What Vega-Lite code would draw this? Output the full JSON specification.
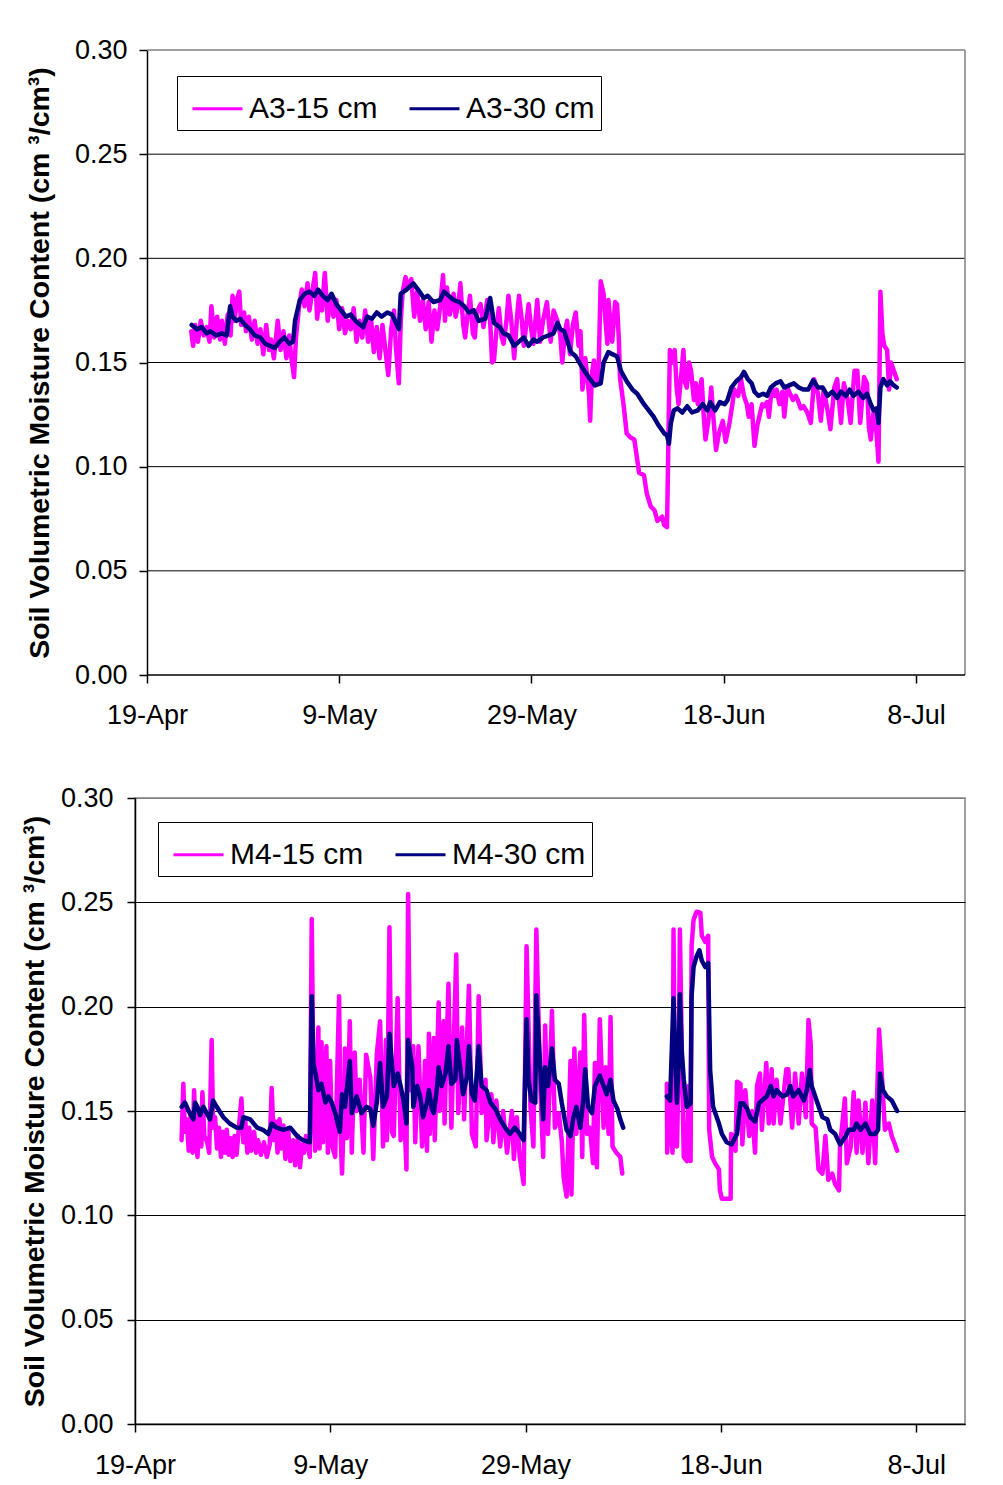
{
 "$schema": "https://vega.github.io/schema/vega-lite/v6.json",
 "padding": {"left": 19, "top": 36, "right": 0, "bottom": 0},
 "background": "white",
 "config": {
  "font": "Liberation Sans",
  "view": {"stroke": "#808080", "strokeWidth": 1.5},
  "axis": {"domainColor": "black", "domainWidth": 1.5, "tickColor": "black", "tickWidth": 1.5, "tickSize": 8, "labelColor": "black", "labelFontSize": 27, "labelFont": "Liberation Sans", "titleColor": "black", "titleFont": "Liberation Sans", "gridWidth": 1}
 },
 "datasets": {
  "a3": [
   {"s":"A3-15 cm","d":4.6,"v":0.165},{"s":"A3-15 cm","d":4.8,"v":0.158},{"s":"A3-15 cm","d":5.0,"v":0.168},{"s":"A3-15 cm","d":5.3,"v":0.160},{"s":"A3-15 cm","d":5.6,"v":0.170},{"s":"A3-15 cm","d":5.9,"v":0.163},{"s":"A3-15 cm","d":6.2,"v":0.167},{"s":"A3-15 cm","d":6.5,"v":0.160},{"s":"A3-15 cm","d":6.7,"v":0.177},{"s":"A3-15 cm","d":7.0,"v":0.162},{"s":"A3-15 cm","d":7.3,"v":0.172},{"s":"A3-15 cm","d":7.6,"v":0.161},{"s":"A3-15 cm","d":7.8,"v":0.170},{"s":"A3-15 cm","d":8.1,"v":0.159},{"s":"A3-15 cm","d":8.4,"v":0.173},{"s":"A3-15 cm","d":8.7,"v":0.163},{"s":"A3-15 cm","d":8.9,"v":0.182},{"s":"A3-15 cm","d":9.1,"v":0.170},{"s":"A3-15 cm","d":9.4,"v":0.181},{"s":"A3-15 cm","d":9.6,"v":0.184},{"s":"A3-15 cm","d":9.8,"v":0.168},{"s":"A3-15 cm","d":10.1,"v":0.174},{"s":"A3-15 cm","d":10.3,"v":0.165},{"s":"A3-15 cm","d":10.6,"v":0.172},{"s":"A3-15 cm","d":10.9,"v":0.161},{"s":"A3-15 cm","d":11.2,"v":0.170},{"s":"A3-15 cm","d":11.5,"v":0.159},{"s":"A3-15 cm","d":11.8,"v":0.166},{"s":"A3-15 cm","d":12.1,"v":0.154},{"s":"A3-15 cm","d":12.4,"v":0.168},{"s":"A3-15 cm","d":12.7,"v":0.156},{"s":"A3-15 cm","d":12.9,"v":0.161},{"s":"A3-15 cm","d":13.2,"v":0.152},{"s":"A3-15 cm","d":13.6,"v":0.170},{"s":"A3-15 cm","d":13.9,"v":0.156},{"s":"A3-15 cm","d":14.2,"v":0.165},{"s":"A3-15 cm","d":14.5,"v":0.152},{"s":"A3-15 cm","d":14.8,"v":0.163},{"s":"A3-15 cm","d":15.0,"v":0.153},{"s":"A3-15 cm","d":15.3,"v":0.143},{"s":"A3-15 cm","d":15.5,"v":0.162},{"s":"A3-15 cm","d":15.8,"v":0.176},{"s":"A3-15 cm","d":16.1,"v":0.185},{"s":"A3-15 cm","d":16.4,"v":0.177},{"s":"A3-15 cm","d":16.7,"v":0.188},{"s":"A3-15 cm","d":16.9,"v":0.175},{"s":"A3-15 cm","d":17.2,"v":0.184},{"s":"A3-15 cm","d":17.5,"v":0.193},{"s":"A3-15 cm","d":17.7,"v":0.171},{"s":"A3-15 cm","d":18.0,"v":0.184},{"s":"A3-15 cm","d":18.2,"v":0.175},{"s":"A3-15 cm","d":18.5,"v":0.193},{"s":"A3-15 cm","d":18.8,"v":0.170},{"s":"A3-15 cm","d":19.1,"v":0.182},{"s":"A3-15 cm","d":19.4,"v":0.172},{"s":"A3-15 cm","d":19.7,"v":0.180},{"s":"A3-15 cm","d":20.0,"v":0.166},{"s":"A3-15 cm","d":20.3,"v":0.176},{"s":"A3-15 cm","d":20.6,"v":0.164},{"s":"A3-15 cm","d":20.9,"v":0.170},{"s":"A3-15 cm","d":21.2,"v":0.166},{"s":"A3-15 cm","d":21.5,"v":0.176},{"s":"A3-15 cm","d":21.8,"v":0.160},{"s":"A3-15 cm","d":22.1,"v":0.170},{"s":"A3-15 cm","d":22.4,"v":0.162},{"s":"A3-15 cm","d":22.7,"v":0.175},{"s":"A3-15 cm","d":23.0,"v":0.160},{"s":"A3-15 cm","d":23.3,"v":0.171},{"s":"A3-15 cm","d":23.6,"v":0.155},{"s":"A3-15 cm","d":23.9,"v":0.167},{"s":"A3-15 cm","d":24.2,"v":0.152},{"s":"A3-15 cm","d":24.5,"v":0.168},{"s":"A3-15 cm","d":24.8,"v":0.156},{"s":"A3-15 cm","d":25.1,"v":0.144},{"s":"A3-15 cm","d":25.4,"v":0.166},{"s":"A3-15 cm","d":25.7,"v":0.175},{"s":"A3-15 cm","d":25.9,"v":0.157},{"s":"A3-15 cm","d":26.2,"v":0.140},{"s":"A3-15 cm","d":26.4,"v":0.170},{"s":"A3-15 cm","d":26.6,"v":0.184},{"s":"A3-15 cm","d":26.9,"v":0.191},{"s":"A3-15 cm","d":27.2,"v":0.186},{"s":"A3-15 cm","d":27.5,"v":0.190},{"s":"A3-15 cm","d":27.8,"v":0.172},{"s":"A3-15 cm","d":28.1,"v":0.184},{"s":"A3-15 cm","d":28.4,"v":0.170},{"s":"A3-15 cm","d":28.7,"v":0.180},{"s":"A3-15 cm","d":29.0,"v":0.166},{"s":"A3-15 cm","d":29.3,"v":0.179},{"s":"A3-15 cm","d":29.6,"v":0.160},{"s":"A3-15 cm","d":29.9,"v":0.175},{"s":"A3-15 cm","d":30.2,"v":0.166},{"s":"A3-15 cm","d":30.5,"v":0.177},{"s":"A3-15 cm","d":30.8,"v":0.192},{"s":"A3-15 cm","d":31.0,"v":0.170},{"s":"A3-15 cm","d":31.2,"v":0.186},{"s":"A3-15 cm","d":31.5,"v":0.173},{"s":"A3-15 cm","d":31.9,"v":0.183},{"s":"A3-15 cm","d":32.1,"v":0.172},{"s":"A3-15 cm","d":32.4,"v":0.178},{"s":"A3-15 cm","d":32.6,"v":0.188},{"s":"A3-15 cm","d":32.9,"v":0.168},{"s":"A3-15 cm","d":33.1,"v":0.162},{"s":"A3-15 cm","d":33.4,"v":0.175},{"s":"A3-15 cm","d":33.6,"v":0.182},{"s":"A3-15 cm","d":33.9,"v":0.164},{"s":"A3-15 cm","d":34.1,"v":0.162},{"s":"A3-15 cm","d":34.3,"v":0.174},{"s":"A3-15 cm","d":34.7,"v":0.178},{"s":"A3-15 cm","d":35.0,"v":0.167},{"s":"A3-15 cm","d":35.4,"v":0.180},{"s":"A3-15 cm","d":35.7,"v":0.170},{"s":"A3-15 cm","d":35.9,"v":0.150},{"s":"A3-15 cm","d":36.1,"v":0.151},{"s":"A3-15 cm","d":36.4,"v":0.168},{"s":"A3-15 cm","d":36.6,"v":0.176},{"s":"A3-15 cm","d":36.9,"v":0.162},{"s":"A3-15 cm","d":37.1,"v":0.159},{"s":"A3-15 cm","d":37.4,"v":0.170},{"s":"A3-15 cm","d":37.6,"v":0.182},{"s":"A3-15 cm","d":37.9,"v":0.170},{"s":"A3-15 cm","d":38.2,"v":0.152},{"s":"A3-15 cm","d":38.5,"v":0.172},{"s":"A3-15 cm","d":38.7,"v":0.182},{"s":"A3-15 cm","d":39.0,"v":0.170},{"s":"A3-15 cm","d":39.2,"v":0.158},{"s":"A3-15 cm","d":39.5,"v":0.170},{"s":"A3-15 cm","d":39.7,"v":0.178},{"s":"A3-15 cm","d":40.0,"v":0.165},{"s":"A3-15 cm","d":40.2,"v":0.159},{"s":"A3-15 cm","d":40.6,"v":0.180},{"s":"A3-15 cm","d":40.9,"v":0.160},{"s":"A3-15 cm","d":41.2,"v":0.170},{"s":"A3-15 cm","d":41.6,"v":0.179},{"s":"A3-15 cm","d":42.0,"v":0.160},{"s":"A3-15 cm","d":42.3,"v":0.175},{"s":"A3-15 cm","d":42.7,"v":0.170},{"s":"A3-15 cm","d":43.0,"v":0.163},{"s":"A3-15 cm","d":43.2,"v":0.150},{"s":"A3-15 cm","d":43.5,"v":0.165},{"s":"A3-15 cm","d":43.7,"v":0.170},{"s":"A3-15 cm","d":44.0,"v":0.154},{"s":"A3-15 cm","d":44.3,"v":0.168},{"s":"A3-15 cm","d":44.6,"v":0.174},{"s":"A3-15 cm","d":44.9,"v":0.158},{"s":"A3-15 cm","d":45.1,"v":0.165},{"s":"A3-15 cm","d":45.3,"v":0.137},{"s":"A3-15 cm","d":45.6,"v":0.152},{"s":"A3-15 cm","d":46.0,"v":0.134},{"s":"A3-15 cm","d":46.1,"v":0.122},{"s":"A3-15 cm","d":46.3,"v":0.145},{"s":"A3-15 cm","d":46.5,"v":0.151},{"s":"A3-15 cm","d":46.8,"v":0.140},{"s":"A3-15 cm","d":47.0,"v":0.150},{"s":"A3-15 cm","d":47.2,"v":0.189},{"s":"A3-15 cm","d":47.5,"v":0.183},{"s":"A3-15 cm","d":47.7,"v":0.170},{"s":"A3-15 cm","d":47.9,"v":0.159},{"s":"A3-15 cm","d":48.0,"v":0.180},{"s":"A3-15 cm","d":48.4,"v":0.160},{"s":"A3-15 cm","d":48.7,"v":0.179},{"s":"A3-15 cm","d":48.9,"v":0.178},{"s":"A3-15 cm","d":49.1,"v":0.160},{"s":"A3-15 cm","d":49.2,"v":0.143},{"s":"A3-15 cm","d":49.6,"v":0.129},{"s":"A3-15 cm","d":49.9,"v":0.116},{"s":"A3-15 cm","d":50.3,"v":0.114},{"s":"A3-15 cm","d":50.7,"v":0.113},{"s":"A3-15 cm","d":51.2,"v":0.097},{"s":"A3-15 cm","d":51.7,"v":0.096},{"s":"A3-15 cm","d":52.0,"v":0.087},{"s":"A3-15 cm","d":52.4,"v":0.081},{"s":"A3-15 cm","d":52.8,"v":0.079},{"s":"A3-15 cm","d":53.1,"v":0.074},{"s":"A3-15 cm","d":53.6,"v":0.076},{"s":"A3-15 cm","d":53.8,"v":0.072},{"s":"A3-15 cm","d":54.1,"v":0.071},{"s":"A3-15 cm","d":54.2,"v":0.100},{"s":"A3-15 cm","d":54.3,"v":0.130},{"s":"A3-15 cm","d":54.4,"v":0.156},{"s":"A3-15 cm","d":54.7,"v":0.150},{"s":"A3-15 cm","d":54.9,"v":0.156},{"s":"A3-15 cm","d":55.1,"v":0.138},{"s":"A3-15 cm","d":55.3,"v":0.130},{"s":"A3-15 cm","d":55.6,"v":0.145},{"s":"A3-15 cm","d":55.8,"v":0.156},{"s":"A3-15 cm","d":56.0,"v":0.140},{"s":"A3-15 cm","d":56.15,"v":0.138},{"s":"A3-15 cm","d":56.4,"v":0.150},{"s":"A3-15 cm","d":56.6,"v":0.146},{"s":"A3-15 cm","d":56.9,"v":0.132},{"s":"A3-15 cm","d":57.1,"v":0.140},{"s":"A3-15 cm","d":57.3,"v":0.130},{"s":"A3-15 cm","d":57.7,"v":0.142},{"s":"A3-15 cm","d":57.9,"v":0.126},{"s":"A3-15 cm","d":58.1,"v":0.113},{"s":"A3-15 cm","d":58.4,"v":0.122},{"s":"A3-15 cm","d":58.7,"v":0.138},{"s":"A3-15 cm","d":58.9,"v":0.125},{"s":"A3-15 cm","d":59.2,"v":0.108},{"s":"A3-15 cm","d":59.5,"v":0.116},{"s":"A3-15 cm","d":59.9,"v":0.122},{"s":"A3-15 cm","d":60.2,"v":0.112},{"s":"A3-15 cm","d":60.6,"v":0.121},{"s":"A3-15 cm","d":60.9,"v":0.130},{"s":"A3-15 cm","d":61.1,"v":0.137},{"s":"A3-15 cm","d":61.5,"v":0.134},{"s":"A3-15 cm","d":61.8,"v":0.142},{"s":"A3-15 cm","d":62.1,"v":0.134},{"s":"A3-15 cm","d":62.4,"v":0.130},{"s":"A3-15 cm","d":62.6,"v":0.124},{"s":"A3-15 cm","d":62.9,"v":0.130},{"s":"A3-15 cm","d":63.2,"v":0.110},{"s":"A3-15 cm","d":63.5,"v":0.120},{"s":"A3-15 cm","d":63.7,"v":0.124},{"s":"A3-15 cm","d":64.0,"v":0.130},{"s":"A3-15 cm","d":64.2,"v":0.129},{"s":"A3-15 cm","d":64.5,"v":0.131},{"s":"A3-15 cm","d":64.7,"v":0.124},{"s":"A3-15 cm","d":65.0,"v":0.138},{"s":"A3-15 cm","d":65.3,"v":0.134},{"s":"A3-15 cm","d":65.5,"v":0.137},{"s":"A3-15 cm","d":65.8,"v":0.130},{"s":"A3-15 cm","d":66.1,"v":0.136},{"s":"A3-15 cm","d":66.3,"v":0.124},{"s":"A3-15 cm","d":66.6,"v":0.138},{"s":"A3-15 cm","d":66.9,"v":0.135},{"s":"A3-15 cm","d":67.2,"v":0.132},{"s":"A3-15 cm","d":67.5,"v":0.134},{"s":"A3-15 cm","d":67.7,"v":0.132},{"s":"A3-15 cm","d":68.0,"v":0.128},{"s":"A3-15 cm","d":68.3,"v":0.129},{"s":"A3-15 cm","d":68.7,"v":0.126},{"s":"A3-15 cm","d":69.06,"v":0.121},{"s":"A3-15 cm","d":69.4,"v":0.142},{"s":"A3-15 cm","d":69.8,"v":0.135},{"s":"A3-15 cm","d":70.1,"v":0.122},{"s":"A3-15 cm","d":70.4,"v":0.137},{"s":"A3-15 cm","d":70.8,"v":0.127},{"s":"A3-15 cm","d":71.1,"v":0.118},{"s":"A3-15 cm","d":71.5,"v":0.138},{"s":"A3-15 cm","d":71.8,"v":0.142},{"s":"A3-15 cm","d":72.2,"v":0.121},{"s":"A3-15 cm","d":72.5,"v":0.140},{"s":"A3-15 cm","d":72.9,"v":0.132},{"s":"A3-15 cm","d":73.2,"v":0.121},{"s":"A3-15 cm","d":73.6,"v":0.146},{"s":"A3-15 cm","d":73.9,"v":0.146},{"s":"A3-15 cm","d":74.2,"v":0.121},{"s":"A3-15 cm","d":74.6,"v":0.143},{"s":"A3-15 cm","d":74.9,"v":0.140},{"s":"A3-15 cm","d":75.1,"v":0.119},{"s":"A3-15 cm","d":75.3,"v":0.113},{"s":"A3-15 cm","d":75.6,"v":0.127},{"s":"A3-15 cm","d":75.9,"v":0.116},{"s":"A3-15 cm","d":76.1,"v":0.1024},{"s":"A3-15 cm","d":76.3,"v":0.184},{"s":"A3-15 cm","d":76.5,"v":0.164},{"s":"A3-15 cm","d":76.7,"v":0.158},{"s":"A3-15 cm","d":77.0,"v":0.156},{"s":"A3-15 cm","d":77.2,"v":0.137},{"s":"A3-15 cm","d":77.4,"v":0.150},{"s":"A3-15 cm","d":77.7,"v":0.146},{"s":"A3-15 cm","d":78.0,"v":0.142},
   {"s":"A3-30 cm","d":4.65,"v":0.168},{"s":"A3-30 cm","d":5.2,"v":0.166},{"s":"A3-30 cm","d":5.7,"v":0.167},{"s":"A3-30 cm","d":6.2,"v":0.164},{"s":"A3-30 cm","d":6.6,"v":0.165},{"s":"A3-30 cm","d":7.2,"v":0.163},{"s":"A3-30 cm","d":7.8,"v":0.164},{"s":"A3-30 cm","d":8.3,"v":0.163},{"s":"A3-30 cm","d":8.65,"v":0.177},{"s":"A3-30 cm","d":8.9,"v":0.172},{"s":"A3-30 cm","d":9.3,"v":0.170},{"s":"A3-30 cm","d":9.7,"v":0.171},{"s":"A3-30 cm","d":10.2,"v":0.168},{"s":"A3-30 cm","d":10.7,"v":0.166},{"s":"A3-30 cm","d":11.2,"v":0.163},{"s":"A3-30 cm","d":11.8,"v":0.162},{"s":"A3-30 cm","d":12.3,"v":0.159},{"s":"A3-30 cm","d":12.8,"v":0.158},{"s":"A3-30 cm","d":13.3,"v":0.157},{"s":"A3-30 cm","d":13.8,"v":0.160},{"s":"A3-30 cm","d":14.3,"v":0.162},{"s":"A3-30 cm","d":14.8,"v":0.159},{"s":"A3-30 cm","d":15.2,"v":0.160},{"s":"A3-30 cm","d":15.4,"v":0.170},{"s":"A3-30 cm","d":15.9,"v":0.180},{"s":"A3-30 cm","d":16.4,"v":0.183},{"s":"A3-30 cm","d":16.9,"v":0.184},{"s":"A3-30 cm","d":17.4,"v":0.182},{"s":"A3-30 cm","d":17.8,"v":0.185},{"s":"A3-30 cm","d":18.3,"v":0.182},{"s":"A3-30 cm","d":18.8,"v":0.180},{"s":"A3-30 cm","d":19.2,"v":0.183},{"s":"A3-30 cm","d":19.7,"v":0.178},{"s":"A3-30 cm","d":20.2,"v":0.175},{"s":"A3-30 cm","d":20.7,"v":0.172},{"s":"A3-30 cm","d":21.2,"v":0.173},{"s":"A3-30 cm","d":21.7,"v":0.170},{"s":"A3-30 cm","d":22.2,"v":0.168},{"s":"A3-30 cm","d":22.5,"v":0.167},{"s":"A3-30 cm","d":22.9,"v":0.172},{"s":"A3-30 cm","d":23.4,"v":0.171},{"s":"A3-30 cm","d":23.9,"v":0.174},{"s":"A3-30 cm","d":24.4,"v":0.172},{"s":"A3-30 cm","d":25.0,"v":0.174},{"s":"A3-30 cm","d":25.5,"v":0.173},{"s":"A3-30 cm","d":26.2,"v":0.166},{"s":"A3-30 cm","d":26.4,"v":0.183},{"s":"A3-30 cm","d":27.0,"v":0.185},{"s":"A3-30 cm","d":27.7,"v":0.188},{"s":"A3-30 cm","d":28.2,"v":0.185},{"s":"A3-30 cm","d":28.8,"v":0.181},{"s":"A3-30 cm","d":29.2,"v":0.182},{"s":"A3-30 cm","d":29.8,"v":0.179},{"s":"A3-30 cm","d":30.5,"v":0.180},{"s":"A3-30 cm","d":30.9,"v":0.184},{"s":"A3-30 cm","d":31.4,"v":0.182},{"s":"A3-30 cm","d":31.9,"v":0.180},{"s":"A3-30 cm","d":32.5,"v":0.179},{"s":"A3-30 cm","d":33.0,"v":0.177},{"s":"A3-30 cm","d":33.5,"v":0.174},{"s":"A3-30 cm","d":34.0,"v":0.175},{"s":"A3-30 cm","d":34.5,"v":0.170},{"s":"A3-30 cm","d":35.2,"v":0.171},{"s":"A3-30 cm","d":35.7,"v":0.181},{"s":"A3-30 cm","d":36.1,"v":0.169},{"s":"A3-30 cm","d":36.7,"v":0.167},{"s":"A3-30 cm","d":37.1,"v":0.164},{"s":"A3-30 cm","d":37.6,"v":0.163},{"s":"A3-30 cm","d":38.2,"v":0.158},{"s":"A3-30 cm","d":38.7,"v":0.160},{"s":"A3-30 cm","d":39.2,"v":0.162},{"s":"A3-30 cm","d":39.7,"v":0.158},{"s":"A3-30 cm","d":40.2,"v":0.161},{"s":"A3-30 cm","d":40.6,"v":0.160},{"s":"A3-30 cm","d":41.2,"v":0.162},{"s":"A3-30 cm","d":41.8,"v":0.163},{"s":"A3-30 cm","d":42.3,"v":0.164},{"s":"A3-30 cm","d":42.7,"v":0.169},{"s":"A3-30 cm","d":43.0,"v":0.166},{"s":"A3-30 cm","d":43.4,"v":0.165},{"s":"A3-30 cm","d":44.1,"v":0.155},{"s":"A3-30 cm","d":44.6,"v":0.153},{"s":"A3-30 cm","d":45.1,"v":0.149},{"s":"A3-30 cm","d":45.5,"v":0.146},{"s":"A3-30 cm","d":46.1,"v":0.142},{"s":"A3-30 cm","d":46.6,"v":0.139},{"s":"A3-30 cm","d":47.2,"v":0.140},{"s":"A3-30 cm","d":47.5,"v":0.150},{"s":"A3-30 cm","d":48.0,"v":0.155},{"s":"A3-30 cm","d":48.4,"v":0.154},{"s":"A3-30 cm","d":48.9,"v":0.153},{"s":"A3-30 cm","d":49.3,"v":0.146},{"s":"A3-30 cm","d":49.9,"v":0.141},{"s":"A3-30 cm","d":50.5,"v":0.137},{"s":"A3-30 cm","d":51.0,"v":0.135},{"s":"A3-30 cm","d":51.7,"v":0.130},{"s":"A3-30 cm","d":52.2,"v":0.127},{"s":"A3-30 cm","d":52.7,"v":0.124},{"s":"A3-30 cm","d":53.2,"v":0.120},{"s":"A3-30 cm","d":53.8,"v":0.116},{"s":"A3-30 cm","d":54.1,"v":0.115},{"s":"A3-30 cm","d":54.3,"v":0.111},{"s":"A3-30 cm","d":54.5,"v":0.121},{"s":"A3-30 cm","d":54.8,"v":0.127},{"s":"A3-30 cm","d":55.2,"v":0.128},{"s":"A3-30 cm","d":55.7,"v":0.126},{"s":"A3-30 cm","d":56.2,"v":0.129},{"s":"A3-30 cm","d":56.7,"v":0.126},{"s":"A3-30 cm","d":57.3,"v":0.127},{"s":"A3-30 cm","d":57.8,"v":0.130},{"s":"A3-30 cm","d":58.3,"v":0.127},{"s":"A3-30 cm","d":58.6,"v":0.131},{"s":"A3-30 cm","d":59.1,"v":0.127},{"s":"A3-30 cm","d":59.6,"v":0.131},{"s":"A3-30 cm","d":60.1,"v":0.130},{"s":"A3-30 cm","d":60.4,"v":0.132},{"s":"A3-30 cm","d":60.8,"v":0.138},{"s":"A3-30 cm","d":61.3,"v":0.141},{"s":"A3-30 cm","d":61.8,"v":0.143},{"s":"A3-30 cm","d":62.1,"v":0.1455},{"s":"A3-30 cm","d":62.5,"v":0.142},{"s":"A3-30 cm","d":62.9,"v":0.140},{"s":"A3-30 cm","d":63.2,"v":0.136},{"s":"A3-30 cm","d":63.6,"v":0.134},{"s":"A3-30 cm","d":64.1,"v":0.135},{"s":"A3-30 cm","d":64.5,"v":0.134},{"s":"A3-30 cm","d":64.9,"v":0.138},{"s":"A3-30 cm","d":65.4,"v":0.140},{"s":"A3-30 cm","d":65.9,"v":0.141},{"s":"A3-30 cm","d":66.3,"v":0.138},{"s":"A3-30 cm","d":66.8,"v":0.139},{"s":"A3-30 cm","d":67.3,"v":0.140},{"s":"A3-30 cm","d":67.8,"v":0.138},{"s":"A3-30 cm","d":68.3,"v":0.137},{"s":"A3-30 cm","d":68.8,"v":0.137},{"s":"A3-30 cm","d":69.3,"v":0.1415},{"s":"A3-30 cm","d":69.8,"v":0.138},{"s":"A3-30 cm","d":70.3,"v":0.138},{"s":"A3-30 cm","d":70.8,"v":0.134},{"s":"A3-30 cm","d":71.3,"v":0.136},{"s":"A3-30 cm","d":71.8,"v":0.133},{"s":"A3-30 cm","d":72.2,"v":0.136},{"s":"A3-30 cm","d":72.7,"v":0.134},{"s":"A3-30 cm","d":73.1,"v":0.137},{"s":"A3-30 cm","d":73.5,"v":0.134},{"s":"A3-30 cm","d":74.0,"v":0.136},{"s":"A3-30 cm","d":74.5,"v":0.133},{"s":"A3-30 cm","d":74.9,"v":0.135},{"s":"A3-30 cm","d":75.3,"v":0.130},{"s":"A3-30 cm","d":75.6,"v":0.127},{"s":"A3-30 cm","d":75.9,"v":0.128},{"s":"A3-30 cm","d":76.1,"v":0.121},{"s":"A3-30 cm","d":76.3,"v":0.138},{"s":"A3-30 cm","d":76.6,"v":0.142},{"s":"A3-30 cm","d":77.0,"v":0.139},{"s":"A3-30 cm","d":77.3,"v":0.141},{"s":"A3-30 cm","d":77.7,"v":0.139},{"s":"A3-30 cm","d":78.0,"v":0.138}
  ],
  "m4": [
   {"s":"M4-15 cm","d":4.77,"v":0.136},{"s":"M4-15 cm","d":4.95,"v":0.163},{"s":"M4-15 cm","d":5.1,"v":0.140},{"s":"M4-15 cm","d":5.3,"v":0.146},{"s":"M4-15 cm","d":5.5,"v":0.131},{"s":"M4-15 cm","d":5.7,"v":0.148},{"s":"M4-15 cm","d":5.9,"v":0.130},{"s":"M4-15 cm","d":6.05,"v":0.160},{"s":"M4-15 cm","d":6.2,"v":0.140},{"s":"M4-15 cm","d":6.4,"v":0.128},{"s":"M4-15 cm","d":6.6,"v":0.150},{"s":"M4-15 cm","d":6.8,"v":0.133},{"s":"M4-15 cm","d":6.9,"v":0.159},{"s":"M4-15 cm","d":7.1,"v":0.138},{"s":"M4-15 cm","d":7.4,"v":0.135},{"s":"M4-15 cm","d":7.6,"v":0.130},{"s":"M4-15 cm","d":7.85,"v":0.184},{"s":"M4-15 cm","d":8.0,"v":0.142},{"s":"M4-15 cm","d":8.2,"v":0.147},{"s":"M4-15 cm","d":8.4,"v":0.132},{"s":"M4-15 cm","d":8.6,"v":0.142},{"s":"M4-15 cm","d":8.8,"v":0.128},{"s":"M4-15 cm","d":9.0,"v":0.140},{"s":"M4-15 cm","d":9.2,"v":0.130},{"s":"M4-15 cm","d":9.4,"v":0.141},{"s":"M4-15 cm","d":9.6,"v":0.129},{"s":"M4-15 cm","d":9.8,"v":0.137},{"s":"M4-15 cm","d":10.0,"v":0.128},{"s":"M4-15 cm","d":10.2,"v":0.138},{"s":"M4-15 cm","d":10.4,"v":0.129},{"s":"M4-15 cm","d":10.9,"v":0.156},{"s":"M4-15 cm","d":11.1,"v":0.135},{"s":"M4-15 cm","d":11.3,"v":0.145},{"s":"M4-15 cm","d":11.5,"v":0.130},{"s":"M4-15 cm","d":11.7,"v":0.142},{"s":"M4-15 cm","d":11.9,"v":0.131},{"s":"M4-15 cm","d":12.2,"v":0.140},{"s":"M4-15 cm","d":12.4,"v":0.130},{"s":"M4-15 cm","d":12.6,"v":0.136},{"s":"M4-15 cm","d":12.9,"v":0.129},{"s":"M4-15 cm","d":13.2,"v":0.135},{"s":"M4-15 cm","d":13.5,"v":0.128},{"s":"M4-15 cm","d":13.8,"v":0.134},{"s":"M4-15 cm","d":14.0,"v":0.161},{"s":"M4-15 cm","d":14.2,"v":0.136},{"s":"M4-15 cm","d":14.4,"v":0.145},{"s":"M4-15 cm","d":14.6,"v":0.130},{"s":"M4-15 cm","d":14.8,"v":0.146},{"s":"M4-15 cm","d":15.0,"v":0.132},{"s":"M4-15 cm","d":15.2,"v":0.143},{"s":"M4-15 cm","d":15.4,"v":0.127},{"s":"M4-15 cm","d":15.7,"v":0.140},{"s":"M4-15 cm","d":15.9,"v":0.126},{"s":"M4-15 cm","d":16.2,"v":0.136},{"s":"M4-15 cm","d":16.4,"v":0.124},{"s":"M4-15 cm","d":16.7,"v":0.138},{"s":"M4-15 cm","d":16.9,"v":0.123},{"s":"M4-15 cm","d":17.1,"v":0.134},{"s":"M4-15 cm","d":17.3,"v":0.130},{"s":"M4-15 cm","d":17.5,"v":0.138},{"s":"M4-15 cm","d":17.9,"v":0.128},{"s":"M4-15 cm","d":18.1,"v":0.242},{"s":"M4-15 cm","d":18.3,"v":0.150},{"s":"M4-15 cm","d":18.45,"v":0.131},{"s":"M4-15 cm","d":18.6,"v":0.165},{"s":"M4-15 cm","d":18.78,"v":0.190},{"s":"M4-15 cm","d":18.9,"v":0.132},{"s":"M4-15 cm","d":19.1,"v":0.183},{"s":"M4-15 cm","d":19.25,"v":0.135},{"s":"M4-15 cm","d":19.6,"v":0.181},{"s":"M4-15 cm","d":19.75,"v":0.130},{"s":"M4-15 cm","d":19.98,"v":0.174},{"s":"M4-15 cm","d":20.2,"v":0.133},{"s":"M4-15 cm","d":20.5,"v":0.128},{"s":"M4-15 cm","d":20.9,"v":0.205},{"s":"M4-15 cm","d":21.05,"v":0.140},{"s":"M4-15 cm","d":21.2,"v":0.120},{"s":"M4-15 cm","d":21.4,"v":0.150},{"s":"M4-15 cm","d":21.5,"v":0.180},{"s":"M4-15 cm","d":21.7,"v":0.137},{"s":"M4-15 cm","d":22.0,"v":0.193},{"s":"M4-15 cm","d":22.2,"v":0.130},{"s":"M4-15 cm","d":22.5,"v":0.178},{"s":"M4-15 cm","d":22.7,"v":0.150},{"s":"M4-15 cm","d":23.0,"v":0.165},{"s":"M4-15 cm","d":23.4,"v":0.130},{"s":"M4-15 cm","d":23.67,"v":0.177},{"s":"M4-15 cm","d":24.1,"v":0.166},{"s":"M4-15 cm","d":24.4,"v":0.127},{"s":"M4-15 cm","d":24.76,"v":0.177},{"s":"M4-15 cm","d":25.1,"v":0.193},{"s":"M4-15 cm","d":25.4,"v":0.133},{"s":"M4-15 cm","d":25.7,"v":0.184},{"s":"M4-15 cm","d":25.8,"v":0.136},{"s":"M4-15 cm","d":26.06,"v":0.238},{"s":"M4-15 cm","d":26.3,"v":0.140},{"s":"M4-15 cm","d":26.5,"v":0.138},{"s":"M4-15 cm","d":26.9,"v":0.204},{"s":"M4-15 cm","d":27.2,"v":0.136},{"s":"M4-15 cm","d":27.5,"v":0.158},{"s":"M4-15 cm","d":27.8,"v":0.122},{"s":"M4-15 cm","d":27.97,"v":0.254},{"s":"M4-15 cm","d":28.2,"v":0.160},{"s":"M4-15 cm","d":28.5,"v":0.181},{"s":"M4-15 cm","d":28.7,"v":0.135},{"s":"M4-15 cm","d":29.03,"v":0.181},{"s":"M4-15 cm","d":29.4,"v":0.133},{"s":"M4-15 cm","d":29.7,"v":0.174},{"s":"M4-15 cm","d":29.9,"v":0.131},{"s":"M4-15 cm","d":30.1,"v":0.187},{"s":"M4-15 cm","d":30.2,"v":0.139},{"s":"M4-15 cm","d":30.6,"v":0.185},{"s":"M4-15 cm","d":30.7,"v":0.136},{"s":"M4-15 cm","d":31.1,"v":0.202},{"s":"M4-15 cm","d":31.2,"v":0.150},{"s":"M4-15 cm","d":31.6,"v":0.193},{"s":"M4-15 cm","d":31.7,"v":0.144},{"s":"M4-15 cm","d":32.1,"v":0.211},{"s":"M4-15 cm","d":32.4,"v":0.142},{"s":"M4-15 cm","d":32.9,"v":0.225},{"s":"M4-15 cm","d":33.1,"v":0.149},{"s":"M4-15 cm","d":33.5,"v":0.190},{"s":"M4-15 cm","d":33.7,"v":0.146},{"s":"M4-15 cm","d":34.2,"v":0.210},{"s":"M4-15 cm","d":34.5,"v":0.139},{"s":"M4-15 cm","d":34.9,"v":0.133},{"s":"M4-15 cm","d":35.2,"v":0.205},{"s":"M4-15 cm","d":35.5,"v":0.149},{"s":"M4-15 cm","d":35.9,"v":0.165},{"s":"M4-15 cm","d":36.0,"v":0.136},{"s":"M4-15 cm","d":36.5,"v":0.158},{"s":"M4-15 cm","d":36.7,"v":0.135},{"s":"M4-15 cm","d":37.0,"v":0.155},{"s":"M4-15 cm","d":37.4,"v":0.133},{"s":"M4-15 cm","d":37.7,"v":0.150},{"s":"M4-15 cm","d":38.1,"v":0.130},{"s":"M4-15 cm","d":38.6,"v":0.150},{"s":"M4-15 cm","d":38.8,"v":0.127},{"s":"M4-15 cm","d":39.1,"v":0.147},{"s":"M4-15 cm","d":39.4,"v":0.128},{"s":"M4-15 cm","d":39.8,"v":0.115},{"s":"M4-15 cm","d":40.1,"v":0.229},{"s":"M4-15 cm","d":40.5,"v":0.152},{"s":"M4-15 cm","d":40.8,"v":0.133},{"s":"M4-15 cm","d":41.1,"v":0.237},{"s":"M4-15 cm","d":41.5,"v":0.162},{"s":"M4-15 cm","d":41.8,"v":0.128},{"s":"M4-15 cm","d":42.0,"v":0.191},{"s":"M4-15 cm","d":42.3,"v":0.139},{"s":"M4-15 cm","d":42.7,"v":0.198},{"s":"M4-15 cm","d":43.0,"v":0.142},{"s":"M4-15 cm","d":43.4,"v":0.149},{"s":"M4-15 cm","d":43.7,"v":0.136},{"s":"M4-15 cm","d":43.9,"v":0.118},{"s":"M4-15 cm","d":44.2,"v":0.109},{"s":"M4-15 cm","d":44.6,"v":0.174},{"s":"M4-15 cm","d":44.7,"v":0.110},{"s":"M4-15 cm","d":45.0,"v":0.180},{"s":"M4-15 cm","d":45.2,"v":0.139},{"s":"M4-15 cm","d":45.6,"v":0.178},{"s":"M4-15 cm","d":45.8,"v":0.128},{"s":"M4-15 cm","d":46.0,"v":0.196},{"s":"M4-15 cm","d":46.3,"v":0.139},{"s":"M4-15 cm","d":46.6,"v":0.142},{"s":"M4-15 cm","d":46.9,"v":0.125},{"s":"M4-15 cm","d":47.1,"v":0.173},{"s":"M4-15 cm","d":47.3,"v":0.123},{"s":"M4-15 cm","d":47.6,"v":0.194},{"s":"M4-15 cm","d":47.99,"v":0.142},{"s":"M4-15 cm","d":48.2,"v":0.171},{"s":"M4-15 cm","d":48.5,"v":0.139},{"s":"M4-15 cm","d":48.7,"v":0.195},{"s":"M4-15 cm","d":48.9,"v":0.133},{"s":"M4-15 cm","d":49.3,"v":0.130},{"s":"M4-15 cm","d":49.7,"v":0.128},{"s":"M4-15 cm","d":49.9,"v":0.120},{"s":"M4-15 cm","d":52.0,"v":null},{"s":"M4-15 cm","d":54.47,"v":0.163},{"s":"M4-15 cm","d":54.5,"v":0.130},{"s":"M4-15 cm","d":54.8,"v":0.154},{"s":"M4-15 cm","d":55.05,"v":0.130},{"s":"M4-15 cm","d":55.15,"v":0.237},{"s":"M4-15 cm","d":55.3,"v":0.134},{"s":"M4-15 cm","d":55.5,"v":0.133},{"s":"M4-15 cm","d":55.7,"v":0.176},{"s":"M4-15 cm","d":55.8,"v":0.237},{"s":"M4-15 cm","d":56.0,"v":0.179},{"s":"M4-15 cm","d":56.2,"v":0.128},{"s":"M4-15 cm","d":56.5,"v":0.126},{"s":"M4-15 cm","d":56.7,"v":0.162},{"s":"M4-15 cm","d":56.9,"v":0.126},{"s":"M4-15 cm","d":57.0,"v":0.229},{"s":"M4-15 cm","d":57.2,"v":0.2415},{"s":"M4-15 cm","d":57.5,"v":0.2455},{"s":"M4-15 cm","d":57.9,"v":0.245},{"s":"M4-15 cm","d":58.05,"v":0.234},{"s":"M4-15 cm","d":58.4,"v":0.231},{"s":"M4-15 cm","d":58.7,"v":0.234},{"s":"M4-15 cm","d":58.8,"v":0.141},{"s":"M4-15 cm","d":59.1,"v":0.128},{"s":"M4-15 cm","d":59.4,"v":0.125},{"s":"M4-15 cm","d":59.8,"v":0.122},{"s":"M4-15 cm","d":59.9,"v":0.112},{"s":"M4-15 cm","d":60.1,"v":0.108},{"s":"M4-15 cm","d":61.0,"v":0.108},{"s":"M4-15 cm","d":61.05,"v":0.139},{"s":"M4-15 cm","d":61.3,"v":0.138},{"s":"M4-15 cm","d":61.5,"v":0.131},{"s":"M4-15 cm","d":61.65,"v":0.164},{"s":"M4-15 cm","d":62.0,"v":0.163},{"s":"M4-15 cm","d":62.2,"v":0.134},{"s":"M4-15 cm","d":62.5,"v":0.160},{"s":"M4-15 cm","d":62.9,"v":0.138},{"s":"M4-15 cm","d":63.2,"v":0.150},{"s":"M4-15 cm","d":63.5,"v":0.130},{"s":"M4-15 cm","d":63.7,"v":0.162},{"s":"M4-15 cm","d":64.0,"v":0.168},{"s":"M4-15 cm","d":64.2,"v":0.141},{"s":"M4-15 cm","d":64.65,"v":0.173},{"s":"M4-15 cm","d":64.9,"v":0.144},{"s":"M4-15 cm","d":65.2,"v":0.170},{"s":"M4-15 cm","d":65.4,"v":0.144},{"s":"M4-15 cm","d":65.7,"v":0.165},{"s":"M4-15 cm","d":66.1,"v":0.144},{"s":"M4-15 cm","d":66.4,"v":0.157},{"s":"M4-15 cm","d":66.7,"v":0.170},{"s":"M4-15 cm","d":66.9,"v":0.170},{"s":"M4-15 cm","d":67.3,"v":0.142},{"s":"M4-15 cm","d":67.6,"v":0.168},{"s":"M4-15 cm","d":67.97,"v":0.144},{"s":"M4-15 cm","d":68.3,"v":0.168},{"s":"M4-15 cm","d":68.7,"v":0.147},{"s":"M4-15 cm","d":68.97,"v":0.1936},{"s":"M4-15 cm","d":69.2,"v":0.182},{"s":"M4-15 cm","d":69.3,"v":0.144},{"s":"M4-15 cm","d":69.7,"v":0.142},{"s":"M4-15 cm","d":70.0,"v":0.122},{"s":"M4-15 cm","d":70.4,"v":0.120},{"s":"M4-15 cm","d":70.7,"v":0.138},{"s":"M4-15 cm","d":71.0,"v":0.117},{"s":"M4-15 cm","d":71.4,"v":0.120},{"s":"M4-15 cm","d":71.7,"v":0.115},{"s":"M4-15 cm","d":72.1,"v":0.112},{"s":"M4-15 cm","d":72.2,"v":0.133},{"s":"M4-15 cm","d":72.7,"v":0.156},{"s":"M4-15 cm","d":72.9,"v":0.125},{"s":"M4-15 cm","d":73.3,"v":0.133},{"s":"M4-15 cm","d":73.6,"v":0.159},{"s":"M4-15 cm","d":73.9,"v":0.130},{"s":"M4-15 cm","d":74.1,"v":0.155},{"s":"M4-15 cm","d":74.5,"v":0.130},{"s":"M4-15 cm","d":74.8,"v":0.154},{"s":"M4-15 cm","d":75.1,"v":0.125},{"s":"M4-15 cm","d":75.5,"v":0.155},{"s":"M4-15 cm","d":75.8,"v":0.125},{"s":"M4-15 cm","d":76.2,"v":0.189},{"s":"M4-15 cm","d":76.5,"v":0.166},{"s":"M4-15 cm","d":76.8,"v":0.141},{"s":"M4-15 cm","d":77.2,"v":0.144},{"s":"M4-15 cm","d":77.5,"v":0.138},{"s":"M4-15 cm","d":77.9,"v":0.133},{"s":"M4-15 cm","d":78.05,"v":0.131},
   {"s":"M4-30 cm","d":4.78,"v":0.152},{"s":"M4-30 cm","d":5.12,"v":0.154},{"s":"M4-30 cm","d":5.6,"v":0.149},{"s":"M4-30 cm","d":5.98,"v":0.146},{"s":"M4-30 cm","d":6.15,"v":0.154},{"s":"M4-30 cm","d":6.49,"v":0.151},{"s":"M4-30 cm","d":6.66,"v":0.148},{"s":"M4-30 cm","d":7.0,"v":0.152},{"s":"M4-30 cm","d":7.34,"v":0.149},{"s":"M4-30 cm","d":7.68,"v":0.146},{"s":"M4-30 cm","d":8.0,"v":0.155},{"s":"M4-30 cm","d":8.37,"v":0.152},{"s":"M4-30 cm","d":9.05,"v":0.147},{"s":"M4-30 cm","d":9.7,"v":0.144},{"s":"M4-30 cm","d":10.4,"v":0.142},{"s":"M4-30 cm","d":10.9,"v":0.142},{"s":"M4-30 cm","d":11.1,"v":0.147},{"s":"M4-30 cm","d":11.8,"v":0.146},{"s":"M4-30 cm","d":12.5,"v":0.142},{"s":"M4-30 cm","d":13.1,"v":0.141},{"s":"M4-30 cm","d":13.66,"v":0.139},{"s":"M4-30 cm","d":14.0,"v":0.144},{"s":"M4-30 cm","d":14.5,"v":0.142},{"s":"M4-30 cm","d":15.2,"v":0.141},{"s":"M4-30 cm","d":15.9,"v":0.142},{"s":"M4-30 cm","d":16.6,"v":0.138},{"s":"M4-30 cm","d":17.2,"v":0.136},{"s":"M4-30 cm","d":17.9,"v":0.135},{"s":"M4-30 cm","d":18.1,"v":0.205},{"s":"M4-30 cm","d":18.27,"v":0.173},{"s":"M4-30 cm","d":18.6,"v":0.165},{"s":"M4-30 cm","d":18.78,"v":0.160},{"s":"M4-30 cm","d":19.1,"v":0.163},{"s":"M4-30 cm","d":19.5,"v":0.154},{"s":"M4-30 cm","d":19.8,"v":0.157},{"s":"M4-30 cm","d":20.15,"v":0.154},{"s":"M4-30 cm","d":20.5,"v":0.149},{"s":"M4-30 cm","d":20.98,"v":0.140},{"s":"M4-30 cm","d":21.2,"v":0.158},{"s":"M4-30 cm","d":21.5,"v":0.152},{"s":"M4-30 cm","d":22.0,"v":0.174},{"s":"M4-30 cm","d":22.2,"v":0.149},{"s":"M4-30 cm","d":22.7,"v":0.157},{"s":"M4-30 cm","d":23.2,"v":0.149},{"s":"M4-30 cm","d":23.7,"v":0.152},{"s":"M4-30 cm","d":24.1,"v":0.151},{"s":"M4-30 cm","d":24.4,"v":0.143},{"s":"M4-30 cm","d":24.76,"v":0.154},{"s":"M4-30 cm","d":25.1,"v":0.173},{"s":"M4-30 cm","d":25.4,"v":0.152},{"s":"M4-30 cm","d":25.8,"v":0.157},{"s":"M4-30 cm","d":26.06,"v":0.187},{"s":"M4-30 cm","d":26.5,"v":0.162},{"s":"M4-30 cm","d":26.9,"v":0.168},{"s":"M4-30 cm","d":27.2,"v":0.162},{"s":"M4-30 cm","d":27.5,"v":0.155},{"s":"M4-30 cm","d":27.8,"v":0.144},{"s":"M4-30 cm","d":27.97,"v":0.184},{"s":"M4-30 cm","d":28.4,"v":0.171},{"s":"M4-30 cm","d":28.5,"v":0.152},{"s":"M4-30 cm","d":28.9,"v":0.162},{"s":"M4-30 cm","d":29.2,"v":0.157},{"s":"M4-30 cm","d":29.5,"v":0.147},{"s":"M4-30 cm","d":29.9,"v":0.154},{"s":"M4-30 cm","d":30.1,"v":0.160},{"s":"M4-30 cm","d":30.4,"v":0.151},{"s":"M4-30 cm","d":30.6,"v":0.149},{"s":"M4-30 cm","d":30.9,"v":0.160},{"s":"M4-30 cm","d":31.1,"v":0.171},{"s":"M4-30 cm","d":31.4,"v":0.162},{"s":"M4-30 cm","d":31.8,"v":0.168},{"s":"M4-30 cm","d":32.1,"v":0.181},{"s":"M4-30 cm","d":32.4,"v":0.163},{"s":"M4-30 cm","d":32.8,"v":0.165},{"s":"M4-30 cm","d":32.96,"v":0.184},{"s":"M4-30 cm","d":33.3,"v":0.171},{"s":"M4-30 cm","d":33.6,"v":0.158},{"s":"M4-30 cm","d":33.98,"v":0.166},{"s":"M4-30 cm","d":34.2,"v":0.181},{"s":"M4-30 cm","d":34.5,"v":0.158},{"s":"M4-30 cm","d":34.8,"v":0.155},{"s":"M4-30 cm","d":35.2,"v":0.181},{"s":"M4-30 cm","d":35.5,"v":0.162},{"s":"M4-30 cm","d":36.0,"v":0.160},{"s":"M4-30 cm","d":36.4,"v":0.154},{"s":"M4-30 cm","d":36.9,"v":0.151},{"s":"M4-30 cm","d":37.4,"v":0.146},{"s":"M4-30 cm","d":37.9,"v":0.142},{"s":"M4-30 cm","d":38.4,"v":0.139},{"s":"M4-30 cm","d":38.9,"v":0.142},{"s":"M4-30 cm","d":39.4,"v":0.139},{"s":"M4-30 cm","d":39.8,"v":0.136},{"s":"M4-30 cm","d":40.1,"v":0.194},{"s":"M4-30 cm","d":40.3,"v":0.165},{"s":"M4-30 cm","d":40.6,"v":0.155},{"s":"M4-30 cm","d":41.0,"v":0.154},{"s":"M4-30 cm","d":41.1,"v":0.2055},{"s":"M4-30 cm","d":41.5,"v":0.171},{"s":"M4-30 cm","d":41.8,"v":0.146},{"s":"M4-30 cm","d":42.0,"v":0.171},{"s":"M4-30 cm","d":42.3,"v":0.162},{"s":"M4-30 cm","d":42.7,"v":0.180},{"s":"M4-30 cm","d":43.0,"v":0.165},{"s":"M4-30 cm","d":43.4,"v":0.163},{"s":"M4-30 cm","d":43.7,"v":0.154},{"s":"M4-30 cm","d":44.2,"v":0.141},{"s":"M4-30 cm","d":44.6,"v":0.138},{"s":"M4-30 cm","d":44.9,"v":0.147},{"s":"M4-30 cm","d":45.2,"v":0.152},{"s":"M4-30 cm","d":45.6,"v":0.142},{"s":"M4-30 cm","d":45.9,"v":0.155},{"s":"M4-30 cm","d":46.1,"v":0.170},{"s":"M4-30 cm","d":46.4,"v":0.152},{"s":"M4-30 cm","d":46.8,"v":0.149},{"s":"M4-30 cm","d":47.1,"v":0.162},{"s":"M4-30 cm","d":47.6,"v":0.167},{"s":"M4-30 cm","d":47.99,"v":0.162},{"s":"M4-30 cm","d":48.3,"v":0.158},{"s":"M4-30 cm","d":48.7,"v":0.165},{"s":"M4-30 cm","d":49.0,"v":0.155},{"s":"M4-30 cm","d":49.4,"v":0.151},{"s":"M4-30 cm","d":49.7,"v":0.146},{"s":"M4-30 cm","d":50.0,"v":0.142},{"s":"M4-30 cm","d":52.0,"v":null},{"s":"M4-30 cm","d":54.47,"v":0.157},{"s":"M4-30 cm","d":54.8,"v":0.155},{"s":"M4-30 cm","d":55.15,"v":0.204},{"s":"M4-30 cm","d":55.5,"v":0.154},{"s":"M4-30 cm","d":55.7,"v":0.178},{"s":"M4-30 cm","d":55.8,"v":0.206},{"s":"M4-30 cm","d":56.0,"v":0.178},{"s":"M4-30 cm","d":56.2,"v":0.165},{"s":"M4-30 cm","d":56.5,"v":0.152},{"s":"M4-30 cm","d":56.9,"v":0.1537},{"s":"M4-30 cm","d":57.0,"v":0.205},{"s":"M4-30 cm","d":57.2,"v":0.219},{"s":"M4-30 cm","d":57.5,"v":0.224},{"s":"M4-30 cm","d":57.8,"v":0.227},{"s":"M4-30 cm","d":58.05,"v":0.222},{"s":"M4-30 cm","d":58.4,"v":0.219},{"s":"M4-30 cm","d":58.7,"v":0.221},{"s":"M4-30 cm","d":58.9,"v":0.1696},{"s":"M4-30 cm","d":59.2,"v":0.152},{"s":"M4-30 cm","d":59.8,"v":0.144},{"s":"M4-30 cm","d":60.1,"v":0.139},{"s":"M4-30 cm","d":60.6,"v":0.135},{"s":"M4-30 cm","d":61.1,"v":0.134},{"s":"M4-30 cm","d":61.65,"v":0.139},{"s":"M4-30 cm","d":61.99,"v":0.1537},{"s":"M4-30 cm","d":62.3,"v":0.1537},{"s":"M4-30 cm","d":62.7,"v":0.151},{"s":"M4-30 cm","d":63.0,"v":0.147},{"s":"M4-30 cm","d":63.5,"v":0.145},{"s":"M4-30 cm","d":63.9,"v":0.1537},{"s":"M4-30 cm","d":64.2,"v":0.155},{"s":"M4-30 cm","d":64.7,"v":0.157},{"s":"M4-30 cm","d":65.1,"v":0.162},{"s":"M4-30 cm","d":65.4,"v":0.157},{"s":"M4-30 cm","d":65.7,"v":0.160},{"s":"M4-30 cm","d":66.3,"v":0.157},{"s":"M4-30 cm","d":66.8,"v":0.158},{"s":"M4-30 cm","d":67.1,"v":0.162},{"s":"M4-30 cm","d":67.4,"v":0.157},{"s":"M4-30 cm","d":67.97,"v":0.160},{"s":"M4-30 cm","d":68.5,"v":0.155},{"s":"M4-30 cm","d":68.8,"v":0.160},{"s":"M4-30 cm","d":69.1,"v":0.1696},{"s":"M4-30 cm","d":69.3,"v":0.162},{"s":"M4-30 cm","d":69.8,"v":0.155},{"s":"M4-30 cm","d":70.4,"v":0.147},{"s":"M4-30 cm","d":70.9,"v":0.146},{"s":"M4-30 cm","d":71.2,"v":0.141},{"s":"M4-30 cm","d":71.7,"v":0.139},{"s":"M4-30 cm","d":72.2,"v":0.134},{"s":"M4-30 cm","d":72.8,"v":0.138},{"s":"M4-30 cm","d":73.1,"v":0.141},{"s":"M4-30 cm","d":73.6,"v":0.141},{"s":"M4-30 cm","d":73.9,"v":0.144},{"s":"M4-30 cm","d":74.3,"v":0.141},{"s":"M4-30 cm","d":74.8,"v":0.144},{"s":"M4-30 cm","d":75.3,"v":0.139},{"s":"M4-30 cm","d":75.8,"v":0.139},{"s":"M4-30 cm","d":76.1,"v":0.141},{"s":"M4-30 cm","d":76.3,"v":0.168},{"s":"M4-30 cm","d":76.6,"v":0.160},{"s":"M4-30 cm","d":76.99,"v":0.157},{"s":"M4-30 cm","d":77.5,"v":0.155},{"s":"M4-30 cm","d":78.05,"v":0.150}
  ],
  "grid": [{"v":0.05},{"v":0.1},{"v":0.15},{"v":0.2},{"v":0.25}]
 },
 "vconcat": [
  {
   "width": 830, "height": 625,
   "view": {"stroke": null},
   "layer": [
    {
     "data": {"name": "grid"},
     "mark": {"type": "rule", "color": "black", "strokeWidth": 1},
     "encoding": {
      "y": {"field": "v", "type": "quantitative", "scale": {"domain": [0, 0.3], "nice": false, "zero": true},
            "axis": {"values": [0, 0.05, 0.1, 0.15, 0.2, 0.25, 0.3], "format": ".2f", "title": "Soil Volumetric Moisture Content (cm \u00b3/cm\u00b3)", "titleFontSize": 28.5, "titleFontWeight": "bold", "titlePadding": 20, "labelPadding": 12, "grid": false, "offset": -12}},
      "x": {"datum": 0},
      "x2": {"datum": 85.1}
     }
    },
    {
     "data": {"values": [{}]},
     "mark": {"type": "rule", "color": "#808080", "strokeWidth": 1.5},
     "encoding": {"y": {"datum": 0.3}, "x": {"datum": 0}, "x2": {"datum": 85.1}}
    },
    {
     "data": {"values": [{}]},
     "mark": {"type": "rule", "color": "#808080", "strokeWidth": 1.5},
     "encoding": {"x": {"datum": 85.1}, "y": {"datum": 0}, "y2": {"datum": 0.3}}
    },
    {
     "data": {"values": [{}]},
     "mark": {"type": "rule", "color": "black", "strokeWidth": 1.5},
     "encoding": {"y": {"datum": 0}, "x": {"datum": 0}, "x2": {"datum": 85.1}}
    },
    {
     "data": {"name": "a3"},
     "mark": {"type": "line", "strokeWidth": 4.5, "strokeJoin": "round", "strokeCap": "round"},
     "encoding": {
      "x": {"field": "d", "type": "quantitative", "scale": {"domain": [-1.248, 85.1], "nice": false, "zero": false},
            "axis": {"values": [0, 20, 40, 60, 80], "labelExpr": "datum.value == 0 ? '19-Apr' : datum.value == 20 ? '9-May' : datum.value == 40 ? '29-May' : datum.value == 60 ? '18-Jun' : '8-Jul'", "grid": false, "domain": false, "title": null, "labelPadding": 19, "labelFlush": false}},
      "y": {"field": "v", "type": "quantitative",
            "axis": {"values": [0, 0.05, 0.1, 0.15, 0.2, 0.25, 0.3], "format": ".2f", "title": "Soil Volumetric Moisture Content (cm \u00b3/cm\u00b3)", "titleFontSize": 28.5, "titleFontWeight": "bold", "titlePadding": 20, "labelPadding": 12, "grid": false, "offset": -12}},
      "color": {"field": "s", "type": "nominal", "scale": {"domain": ["A3-15 cm", "A3-30 cm"], "range": ["#FF00FF", "#000080"]},
                "legend": {"orient": "none", "legendX": 42, "legendY": 26, "direction": "horizontal", "title": null, "symbolType": "stroke", "symbolSize": 2500, "symbolStrokeWidth": 3, "symbolOffset": 8, "labelFontSize": 30, "labelFont": "Liberation Sans", "labelColor": "black", "labelOffset": 5, "columnPadding": 22, "padding": 6, "strokeColor": "black", "fillColor": "white", "labelLimit": 400}}
     }
    }
   ]
  },
  {
   "width": 830, "height": 626,
   "data": {"name": "m4"},
   "mark": {"type": "line", "strokeWidth": 4.5, "strokeJoin": "round", "strokeCap": "round"},
   "encoding": {
    "x": {"field": "d", "type": "quantitative", "scale": {"domain": [0, 85.0], "nice": false, "zero": false},
          "axis": {"values": [0, 20, 40, 60, 80], "labelExpr": "datum.value == 0 ? '19-Apr' : datum.value == 20 ? '9-May' : datum.value == 40 ? '29-May' : datum.value == 60 ? '18-Jun' : '8-Jul'", "grid": false, "title": null, "labelPadding": 20, "labelFlush": false}},
    "y": {"field": "v", "type": "quantitative", "scale": {"domain": [0, 0.3], "nice": false, "zero": true},
          "axis": {"values": [0, 0.05, 0.1, 0.15, 0.2, 0.25, 0.3], "format": ".2f", "title": "Soil Volumetric Moisture Content (cm \u00b3/cm\u00b3)", "titleFontSize": 28.5, "titleFontWeight": "bold", "titlePadding": 11, "labelPadding": 14, "grid": true, "gridColor": {"condition": {"test": "datum.value >= 0.299", "value": "#808080"}, "value": "black"}}},
    "color": {"field": "s", "type": "nominal", "scale": {"domain": ["M4-15 cm", "M4-30 cm"], "range": ["#FF00FF", "#000080"]},
              "legend": {"orient": "none", "legendX": 23, "legendY": 24, "direction": "horizontal", "title": null, "symbolType": "stroke", "symbolSize": 2500, "symbolStrokeWidth": 3, "symbolOffset": 8, "labelFontSize": 30, "labelFont": "Liberation Sans", "labelColor": "black", "labelOffset": 5, "columnPadding": 22, "padding": 6, "strokeColor": "black", "fillColor": "white", "labelLimit": 400}}
   }
  }
 ],
 "spacing": 55,
 "resolve": {"scale": {"color": "independent", "x": "independent", "y": "independent"}}
}
